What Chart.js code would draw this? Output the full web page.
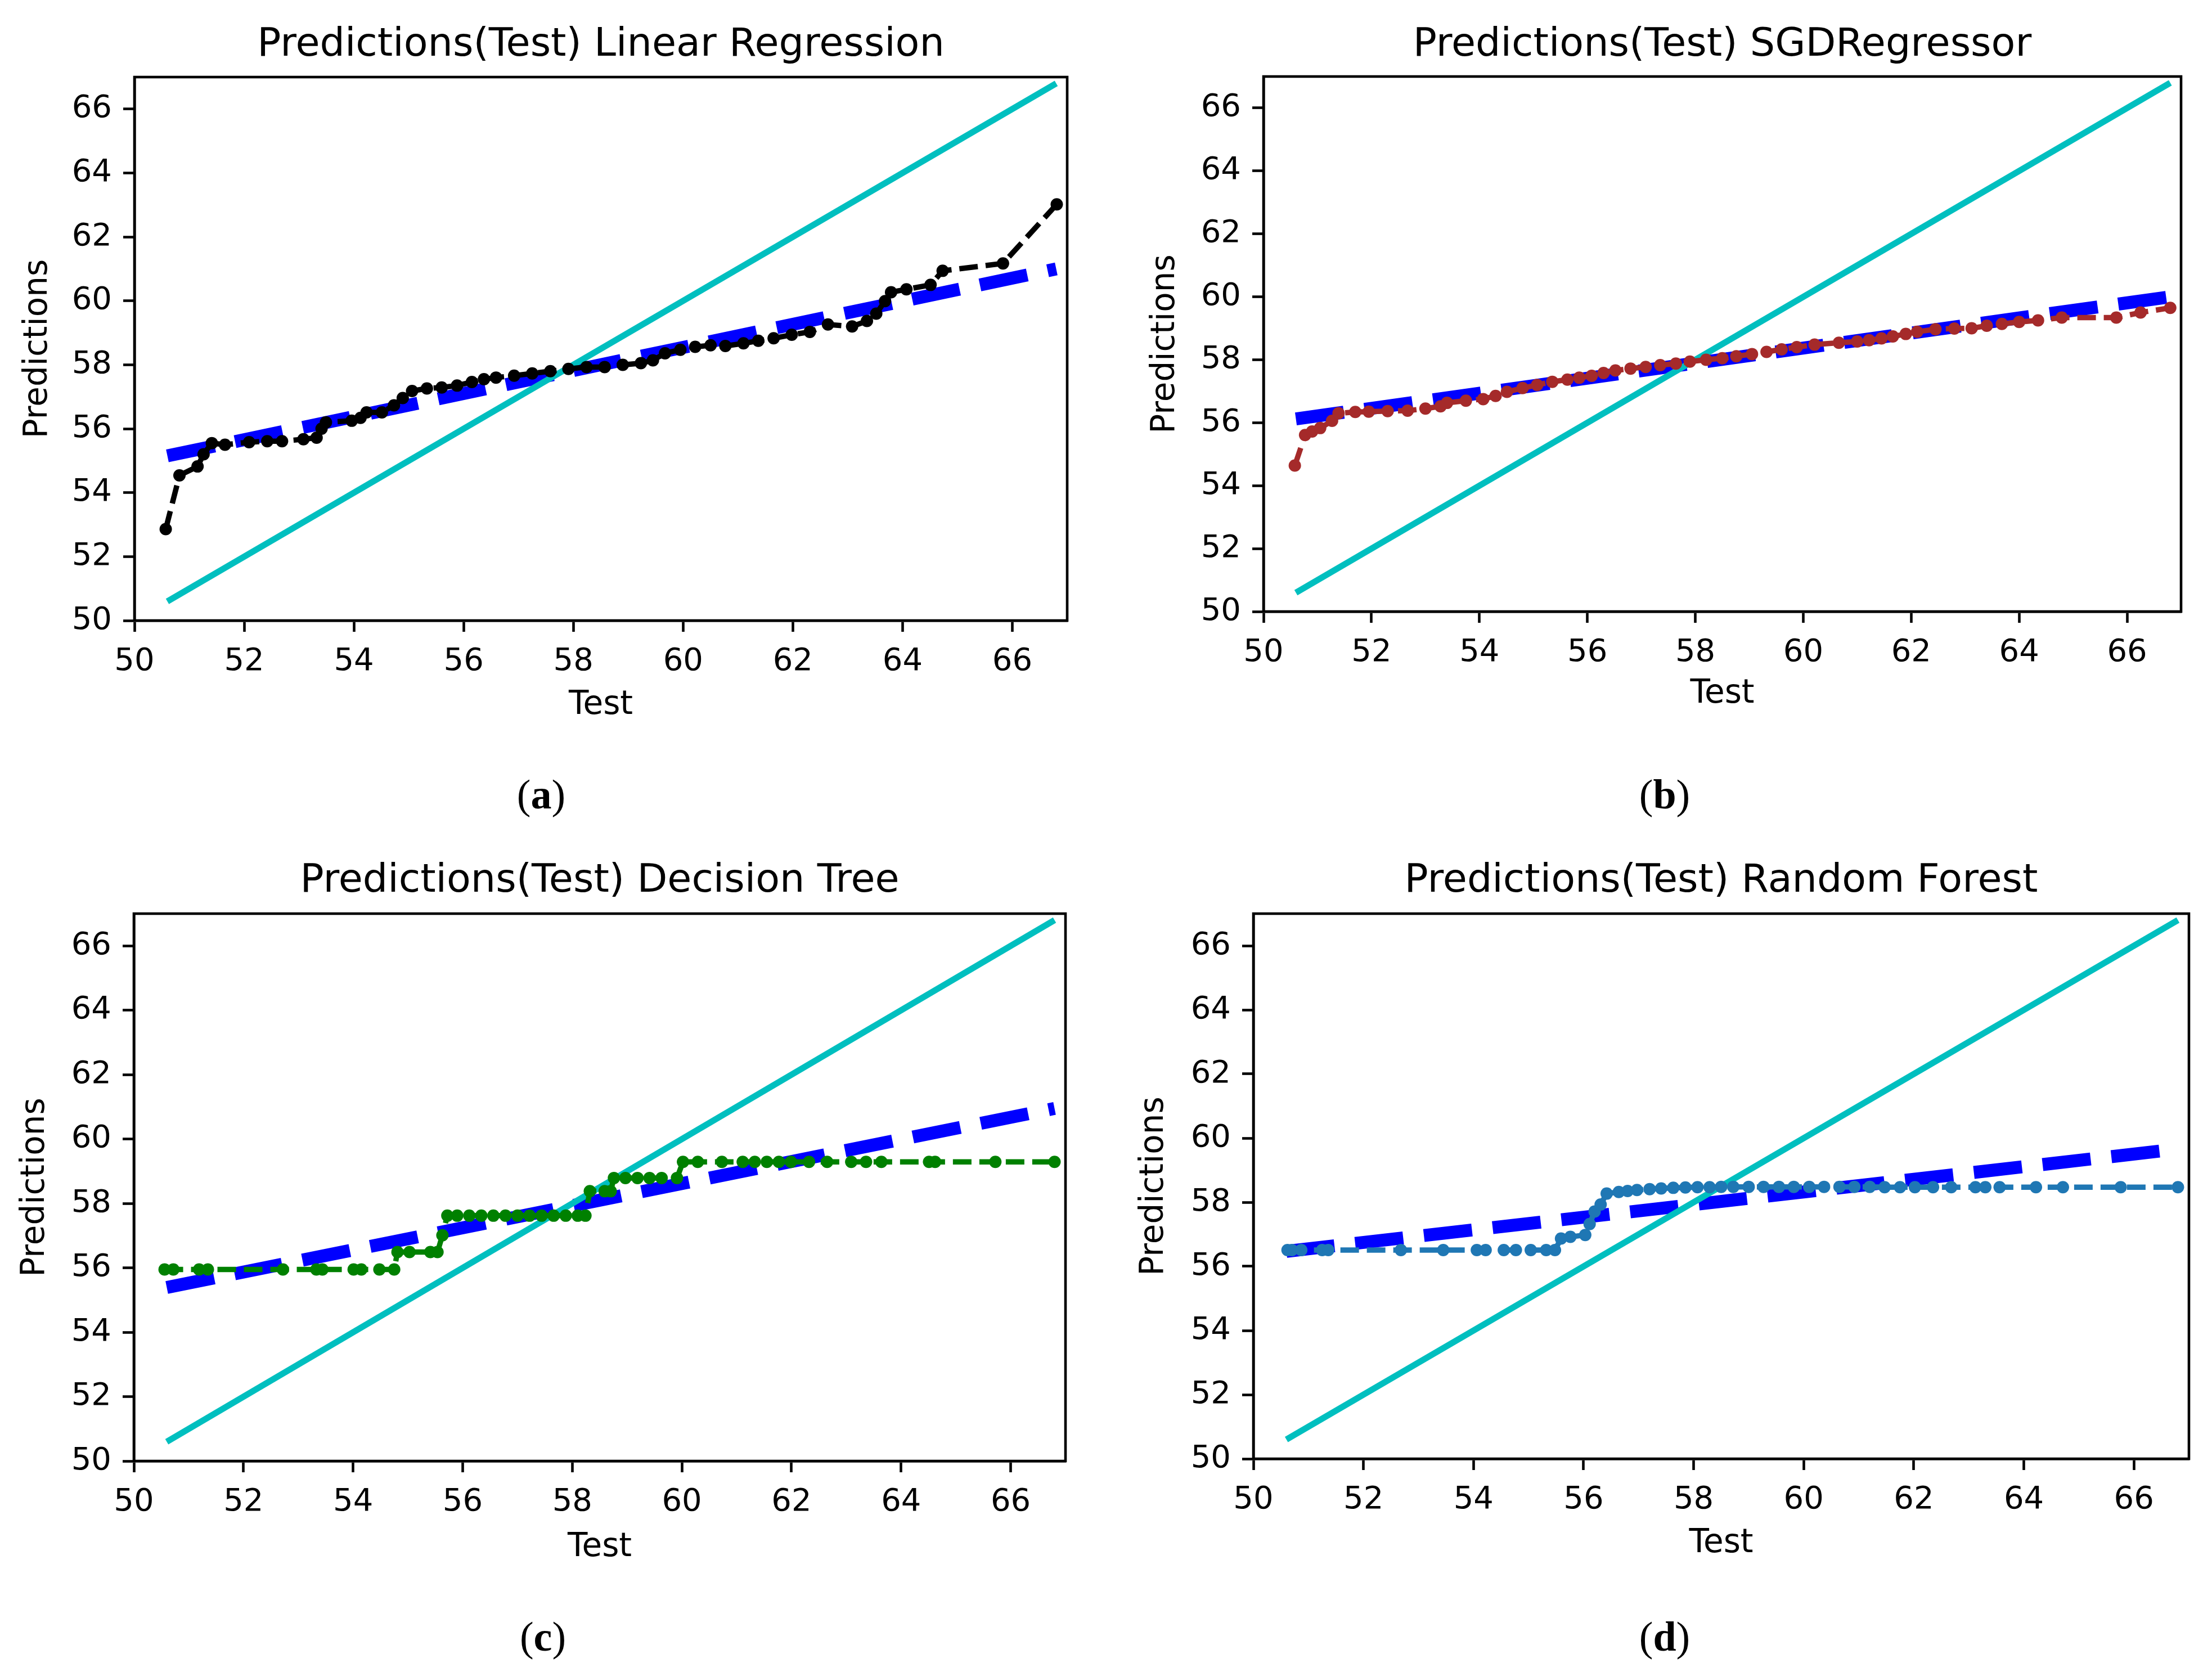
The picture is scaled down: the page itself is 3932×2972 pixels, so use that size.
<!DOCTYPE html>
<html>
<head>
<meta charset="utf-8">
<script src="https://cdn.jsdelivr.net/npm/chart.js@4.4.1/dist/chart.umd.min.js"></script>
<style>
  html, body { margin: 0; padding: 0; background: #fff; }
  body { width: 3932px; height: 2972px; position: relative; overflow: hidden; }
  canvas { position: absolute; }
  .sub { position: absolute; font-family: "Liberation Serif", "Times New Roman", serif; font-size: 74px; color: #000;
         transform: translate(-50%, -50%); white-space: nowrap; }
</style>
</head>
<body>
<canvas id="lr" width="1966" height="1486" style="left:0px;top:0px"></canvas>
<canvas id="sgd" width="1966" height="1486" style="left:1966px;top:0px"></canvas>
<canvas id="dt" width="1966" height="1486" style="left:0px;top:1486px"></canvas>
<canvas id="rf" width="1966" height="1486" style="left:1966px;top:1486px"></canvas>
<div class="sub" style="left:962px;top:1412px">(<b>a</b>)</div>
<div class="sub" style="left:2959px;top:1412px">(<b>b</b>)</div>
<div class="sub" style="left:965px;top:2909px">(<b>c</b>)</div>
<div class="sub" style="left:2959px;top:2909px">(<b>d</b>)</div>
<script>
// tick values shared by both axes of every panel
const axisTicks = [50, 52, 54, 56, 58, 60, 62, 64, 66];

// ideal line (y = x) runs from min to max of the test values
const idealX = [50.6, 66.8];
// regression fit of predictions against test, sampled at the same ends
const fitX = [50.6, 66.8];

// (a) Linear Regression
const lrTest = [50.57, 50.82, 51.15, 51.26, 51.41, 51.65, 52.09, 52.42, 52.69, 53.08, 53.32, 53.41, 53.49, 53.96,
  54.12, 54.23, 54.51, 54.73, 54.89, 55.06, 55.33, 55.6, 55.88, 56.15, 56.37, 56.59, 56.92, 57.25, 57.58, 57.91,
  58.24, 58.57, 58.9, 59.23, 59.45, 59.67, 59.95, 60.22, 60.5, 60.77, 61.1, 61.37, 61.65, 61.98, 62.31, 62.64,
  63.08, 63.35, 63.52, 63.68, 63.79, 64.07, 64.51, 64.73, 65.83, 66.81];
const lrPred = [52.86, 54.54, 54.82, 55.2, 55.55, 55.5, 55.58, 55.61, 55.61, 55.67, 55.72, 56.0, 56.2, 56.25,
  56.34, 56.51, 56.51, 56.73, 56.96, 57.18, 57.26, 57.29, 57.35, 57.46, 57.55, 57.6, 57.66, 57.73, 57.8, 57.87,
  57.93, 57.93, 58.0, 58.05, 58.14, 58.36, 58.47, 58.56, 58.61, 58.59, 58.67, 58.75, 58.83, 58.94, 59.03, 59.26,
  59.2, 59.37, 59.6, 59.99, 60.27, 60.36, 60.5, 60.94, 61.17, 63.02];
const lrFit = [55.15, 61.0];

// (b) SGDRegressor
const sgdTest = [50.58, 50.77, 50.9, 51.05, 51.27, 51.39, 51.7, 51.95, 52.3, 52.67, 53.0, 53.28, 53.4, 53.75,
  54.07, 54.3, 54.51, 54.8, 55.07, 55.35, 55.63, 55.85, 56.08, 56.3, 56.52, 56.8, 57.08, 57.35, 57.64, 57.9,
  58.2, 58.5, 58.76, 59.05, 59.32, 59.6, 59.88, 60.21, 60.66, 61.0, 61.22, 61.45, 61.66, 61.9, 62.11, 62.45,
  62.8, 63.12, 63.4, 63.68, 64.0, 64.35, 64.79, 65.8, 66.25, 66.8];
const sgdPred = [54.64, 55.61, 55.72, 55.83, 56.06, 56.3, 56.34, 56.35, 56.37, 56.38, 56.45, 56.52, 56.63, 56.7,
  56.75, 56.85, 56.98, 57.1, 57.2, 57.3, 57.37, 57.43, 57.49, 57.58, 57.66, 57.72, 57.77, 57.83, 57.88, 57.94,
  58.0, 58.05, 58.11, 58.18, 58.25, 58.33, 58.4, 58.48, 58.54, 58.58, 58.62, 58.68, 58.74, 58.82, 58.89, 58.97,
  58.99, 59.0, 59.08, 59.14, 59.2, 59.25, 59.34, 59.34, 59.5, 59.65];
const sgdFit = [56.12, 60.0];

// (c) Decision Tree
const dtTest = [50.56, 50.72, 51.19, 51.35, 52.72, 53.33, 53.44, 54.01, 54.15, 54.48, 54.75,
  54.81, 55.03, 55.41, 55.54, 55.63,
  55.72, 55.9, 56.12, 56.34, 56.56, 56.78, 57.0, 57.22, 57.44, 57.66, 57.88, 58.1, 58.24,
  58.32, 58.59, 58.7,
  58.76, 58.97, 59.19, 59.41, 59.63, 59.91,
  60.02, 60.29, 60.73, 61.11, 61.33, 61.55, 61.77, 61.99, 62.32, 62.65, 63.09, 63.36, 63.64, 64.51, 64.62,
  65.72, 66.8];
const dtPred = [55.95, 55.95, 55.95, 55.95, 55.95, 55.95, 55.95, 55.95, 55.95, 55.95, 55.95,
  56.49, 56.49, 56.49, 56.49, 57.01,
  57.62, 57.62, 57.62, 57.62, 57.62, 57.62, 57.62, 57.62, 57.62, 57.62, 57.62, 57.62, 57.62,
  58.38, 58.38, 58.38,
  58.79, 58.79, 58.79, 58.79, 58.79, 58.79,
  59.29, 59.29, 59.29, 59.29, 59.29, 59.29, 59.29, 59.29, 59.29, 59.29, 59.29, 59.29, 59.29, 59.29, 59.29,
  59.29, 59.29];
const dtFit = [55.39, 60.95];

// (d) Random Forest
const rfTest = [50.62, 50.7, 50.87, 51.25, 51.36, 52.68, 53.45, 54.06, 54.22, 54.55, 54.77, 55.04, 55.32, 55.48,
  55.59, 55.76, 56.03, 56.11, 56.2, 56.31, 56.42, 56.64, 56.8, 56.97, 57.2, 57.41, 57.63, 57.85, 58.07, 58.29,
  58.5, 58.72, 59.0, 59.27, 59.55, 59.82, 60.1, 60.37, 60.65, 60.92, 61.2, 61.47, 61.75, 62.02, 62.35, 62.68,
  63.12, 63.3, 63.56, 64.22, 64.71, 65.76, 66.8];
const rfPred = [56.51, 56.51, 56.51, 56.51, 56.51, 56.51, 56.51, 56.51, 56.51, 56.51, 56.51, 56.51, 56.51, 56.51,
  56.87, 56.92, 56.98, 57.32, 57.71, 57.93, 58.27, 58.32, 58.35, 58.38, 58.41, 58.43, 58.45, 58.46, 58.47, 58.47,
  58.48, 58.48, 58.48, 58.48, 58.48, 58.48, 58.48, 58.48, 58.48, 58.48, 58.48, 58.47, 58.47, 58.47, 58.47, 58.47,
  58.47, 58.47, 58.47, 58.47, 58.47, 58.47, 58.47];
const rfFit = [56.47, 59.66];

const FAMILY = '"DejaVu Sans", Verdana, sans-serif';

function pts(xs, ys) {
  return xs.map((x, i) => ({ x: x, y: ys[i] }));
}

// matplotlib style box round the plot area
const frame = {
  id: 'frame',
  afterDraw(chart) {
    const { ctx, chartArea: a } = chart;
    ctx.save();
    ctx.strokeStyle = '#000';
    ctx.lineWidth = 4.6;
    ctx.strokeRect(a.left, a.top, a.right - a.left, a.bottom - a.top);
    ctx.restore();
  }
};

// box = chart area inside the canvas, plus label offsets
function makePanel(id, title, test, pred, fit, color, box) {
  const canvas = document.getElementById(id);
  const W = canvas.width, H = canvas.height;
  const tickFont = { family: FAMILY, size: 56 };
  const labelFont = { family: FAMILY, size: 58, lineHeight: 1.2 };
  const axisCommon = {
    type: 'linear',
    min: 50,
    max: 67,
    afterBuildTicks: s => { s.ticks = axisTicks.map(v => ({ value: v })); },
    ticks: { font: tickFont, color: '#000', padding: 20, maxRotation: 0, autoSkip: false },
    grid: { drawOnChartArea: false, tickLength: 20, tickWidth: 4.6, tickColor: '#000' },
    border: { display: true, color: '#000', width: 4.6 }
  };
  return new Chart(canvas, {
    type: 'scatter',
    data: {
      datasets: [
        { data: pts(test, pred), showLine: true, borderColor: color, backgroundColor: color,
          borderWidth: 9.5, borderDash: [33, 14], pointRadius: 11, pointBorderWidth: 0, tension: 0 },
        { data: pts(idealX, idealX), showLine: true, borderColor: '#00bfbf', borderWidth: 11, pointRadius: 0 },
        { data: pts(fitX, fit), showLine: true, borderColor: '#0000ff', borderWidth: 23,
          borderDash: [86, 37], borderCapStyle: 'butt', pointRadius: 0 }
      ]
    },
    options: {
      responsive: false,
      animation: false,
      devicePixelRatio: 1,
      events: [],
      layout: { padding: { left: 0, top: 0, right: W - box.right, bottom: 0 } },
      plugins: {
        legend: { display: false },
        tooltip: { enabled: false },
        title: {
          display: true, text: title, fullSize: false, color: '#000',
          font: { family: FAMILY, size: 70, weight: 'normal', lineHeight: 1.2 },
          padding: { top: 39, bottom: box.top - 123 }
        }
      },
      scales: {
        x: Object.assign({}, axisCommon, {
          afterFit: s => { s.height = H - box.bottom; },
          title: { display: true, text: 'Test', color: '#000', font: labelFont,
                   padding: { top: 0, bottom: H - 34.8 - box.testY } }
        }),
        y: Object.assign({}, axisCommon, {
          afterFit: s => { s.width = box.left; },
          title: { display: true, text: 'Predictions', color: '#000', font: labelFont,
                   padding: { top: box.predX - 34.8, bottom: 0 } }
        })
      }
    },
    plugins: [frame]
  });
}

makePanel('lr', 'Predictions(Test) Linear Regression', lrTest, lrPred, lrFit, '#000000',
  { left: 239, right: 1897, top: 137, bottom: 1103, testY: 1254, predX: 68 });
makePanel('sgd', 'Predictions(Test) SGDRegressor', sgdTest, sgdPred, sgdFit, '#a52a2a',
  { left: 280, right: 1911, top: 136, bottom: 1087, testY: 1234, predX: 106 });
makePanel('dt', 'Predictions(Test) Decision Tree', dtTest, dtPred, dtFit, '#008000',
  { left: 238, right: 1894, top: 138, bottom: 1111, testY: 1265, predX: 63 });
makePanel('rf', 'Predictions(Test) Random Forest', rfTest, rfPred, rfFit, '#1f77b4',
  { left: 262, right: 1925, top: 138, bottom: 1107, testY: 1258, predX: 86 });
</script>
</body>
</html>
